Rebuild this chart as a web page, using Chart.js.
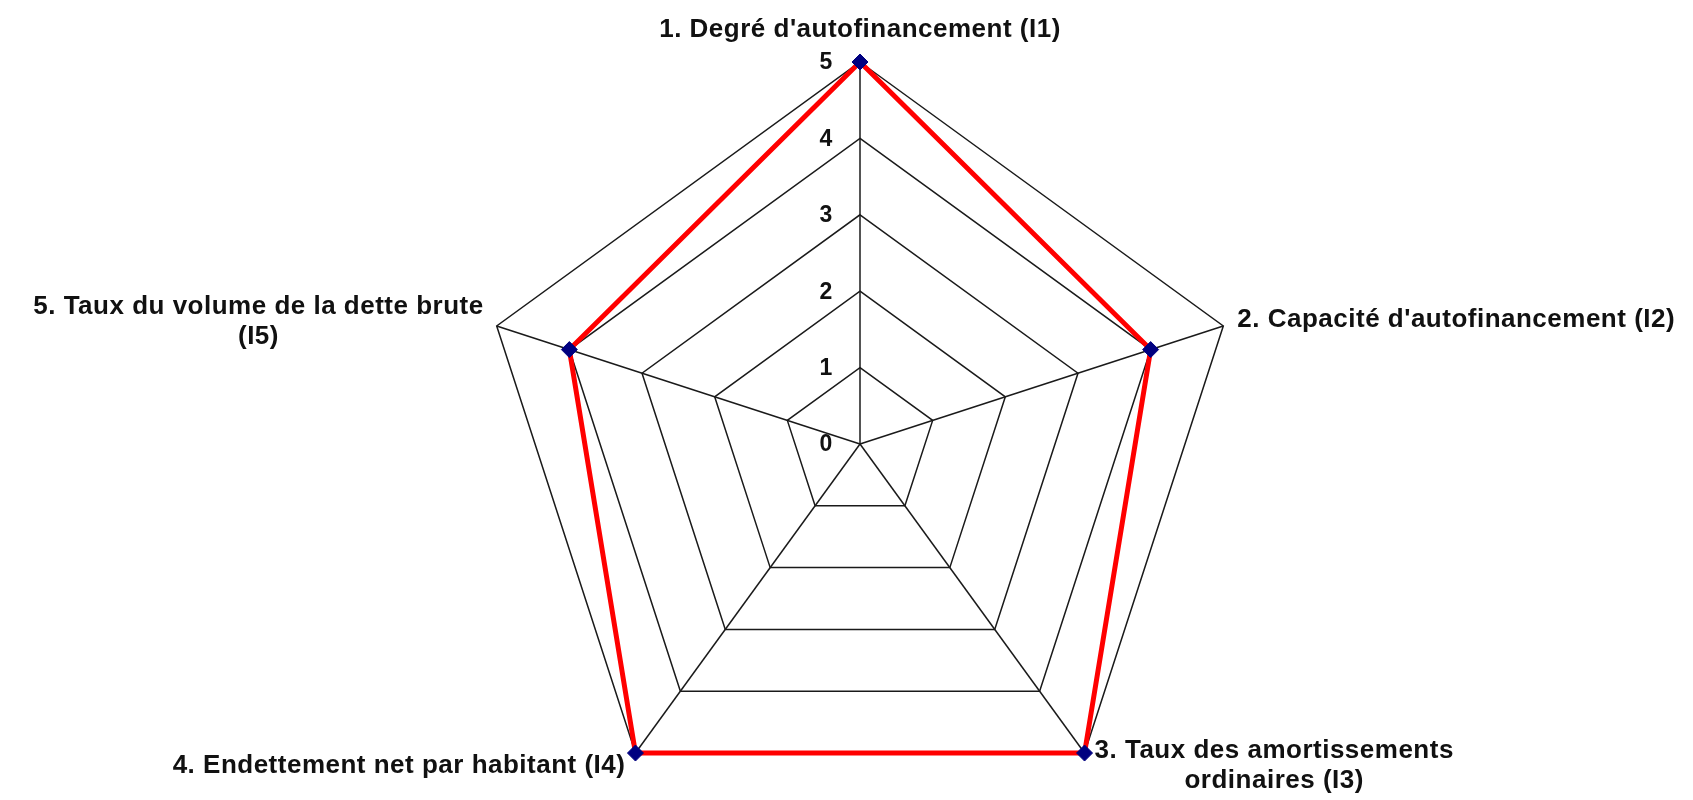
<!DOCTYPE html>
<html lang="fr">
<head>
<meta charset="UTF-8">
<title>Indicateurs financiers</title>
<script src="https://cdn.jsdelivr.net/npm/chart.js"></script>
<style>
  body { margin: 0; overflow: hidden; background: #fff; }
  #wrap { position: absolute; left: 0; top: 0; width: 1720px; height: 900px; }
</style>
</head>
<body>
<div id="wrap"><canvas id="radar" width="1720" height="900"></canvas></div>
<script>
// axes (one array per line of the label)
const categories = [
  ["1. Degré d'autofinancement (I1)"],
  ["2. Capacité d'autofinancement (I2)"],
  ["3. Taux des amortissements", "ordinaires (I3)"],
  ["4. Endettement net par habitant (I4)"],
  ["5. Taux du volume de la dette brute", "(I5)"]
];
const notes = [5, 4, 5, 5, 4];
const tickValues = [0, 1, 2, 3, 4, 5];

const labelFont = 'bold 26px "Liberation Sans", Arial, sans-serif';
const tickFont = 'bold 23px "Liberation Sans", Arial, sans-serif';

// where each axis label sits relative to its outer vertex
const labelPlace = [
  { dx: 0, dy: -25, mode: 'center' },
  { dx: 14, dy: 1, mode: 'left' },
  { dx: 10, dy: 5, mode: 'blockLeft' },
  { dx: -10, dy: 20, mode: 'right' },
  { dx: -13, dy: -12, mode: 'blockRight' }
];
const lineGap = 30;

const textPlugin = {
  id: 'textPlugin',
  afterDraw(chart) {
    const ctx = chart.ctx;
    const r = chart.scales.r;
    ctx.save();
    ctx.fillStyle = '#111';

    // scale numbers, left of the vertical axis
    ctx.font = tickFont;
    ctx.textAlign = 'center';
    ctx.textBaseline = 'middle';
    tickValues.forEach(v => {
      const p = r.getPointPositionForValue(0, v);
      ctx.fillText(String(v), p.x - 34, p.y + 1);
    });

    // axis labels
    ctx.font = labelFont;
    ctx.letterSpacing = '0.5px';
    ctx.textBaseline = 'alphabetic';
    categories.forEach((lines, i) => {
      const p = r.getPointPosition(i, r.drawingArea);
      const pl = labelPlace[i];
      const widths = lines.map(l => ctx.measureText(l).width);
      const maxW = Math.max(...widths);
      lines.forEach((line, k) => {
        const y = p.y + pl.dy + k * lineGap;
        let x = p.x + pl.dx;
        if (pl.mode === 'center') { ctx.textAlign = 'center'; }
        else if (pl.mode === 'left') { ctx.textAlign = 'left'; }
        else if (pl.mode === 'right') { ctx.textAlign = 'right'; }
        else if (pl.mode === 'blockLeft') { ctx.textAlign = 'center'; x = x + maxW / 2; }
        else { ctx.textAlign = 'center'; x = x - maxW / 2; }
        ctx.fillText(line, x, y);
      });
    });
    ctx.restore();
  }
};

const config = {
  type: 'radar',
  data: {
    labels: categories,
    datasets: [{
      data: notes,
      fill: false,
      borderColor: '#ff0000',
      borderWidth: 5,
      tension: 0,
      pointStyle: 'rectRot',
      pointRadius: 8,
      pointBackgroundColor: '#000080',
      pointBorderColor: '#000080',
      pointBorderWidth: 1
    }]
  },
  options: {
    responsive: false,
    animation: false,
    layout: { padding: { top: 62, bottom: 74, left: 478, right: 478 } },
    plugins: { legend: { display: false }, tooltip: { enabled: false } },
    scales: {
      r: {
        min: 0,
        max: 5,
        ticks: { stepSize: 1, display: false },
        grid: { color: '#1a1a1a', lineWidth: 1.5 },
        angleLines: { color: '#1a1a1a', lineWidth: 1.5 },
        pointLabels: { display: false }
      }
    }
  },
  plugins: [textPlugin]
};

const ctx = document.getElementById('radar').getContext('2d');
new Chart(ctx, config);
</script>
</body>
</html>
